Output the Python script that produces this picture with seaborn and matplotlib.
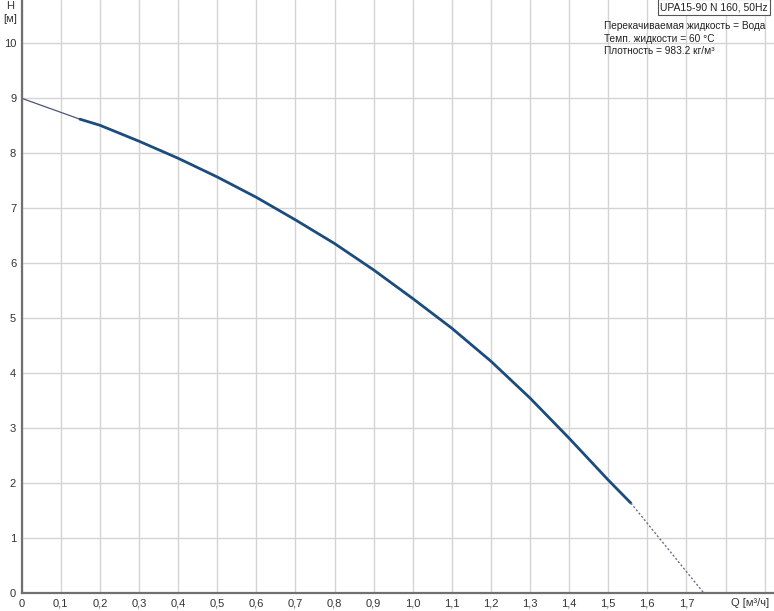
import pandas as pd
import matplotlib
matplotlib.use("Agg")
import matplotlib.pyplot as plt
import seaborn as sns

# Pump curve UPA15-90 N 160
q_start = [0.0, 0.149]
h_start = [9.0, 8.62]

q_main = [0.149, 0.2, 0.3, 0.4, 0.5, 0.6, 0.7, 0.8, 0.9, 1.0,
          1.1, 1.2, 1.3, 1.4, 1.5, 1.558]
h_main = [8.62, 8.51, 8.22, 7.91, 7.57, 7.20, 6.79, 6.36, 5.88, 5.36,
          4.82, 4.22, 3.55, 2.82, 2.06, 1.64]

q_end = [1.558, 1.745]
h_end = [1.64, 0.0]

x_ticks = [i / 10 for i in range(20)]
x_labels = ["0", "0,1", "0,2", "0,3", "0,4", "0,5", "0,6", "0,7", "0,8", "0,9",
            "1,0", "1,1", "1,2", "1,3", "1,4", "1,5", "1,6", "1,7", "", ""]
y_ticks = list(range(11))

info_lines = ["Перекачиваемая жидкость = Вода",
              "Темп. жидкости = 60 °C",
              "Плотность = 983.2 кг/м³"]

sns.set_style("white")
plt.rcParams["font.family"] = ["Liberation Sans", "DejaVu Sans"]

fig = plt.figure(figsize=(7.74, 6.11), dpi=100)
ax = fig.add_axes([21.7 / 774, 17.7 / 611, 1 - 21.7 / 774, 593.3 / 611])

df_start = pd.DataFrame({"Q": q_start, "H": h_start})
df_main = pd.DataFrame({"Q": q_main, "H": h_main})
df_end = pd.DataFrame({"Q": q_end, "H": h_end})

sns.lineplot(data=df_start, x="Q", y="H", ax=ax, color="#4a5578", linewidth=0.9)
sns.lineplot(data=df_main, x="Q", y="H", ax=ax, color="#1b4c7c", linewidth=2.0)
sns.lineplot(data=df_end, x="Q", y="H", ax=ax, color="#6a7088", linewidth=1.0,
             linestyle=(0, (1.5, 1.5)))

ax.set_xlim(0, 1.924)
ax.set_ylim(0, 593.3 / 55)
ax.set_xticks(x_ticks)
ax.set_xticklabels(x_labels)
ax.set_yticks(y_ticks)
ax.set_yticklabels([str(v) for v in y_ticks])
ax.grid(True, color="#d4d4d4", linewidth=1.0)
ax.set_axisbelow(True)
ax.set_xlabel("")
ax.set_ylabel("")

for side in ["top", "right"]:
    ax.spines[side].set_visible(False)
for side in ["left", "bottom"]:
    ax.spines[side].set_color("#707070")
    ax.spines[side].set_linewidth(1.6)

ax.tick_params(axis="both", labelsize=8, length=3, width=1, pad=1,
               direction="out", colors="#707070", labelcolor="#333333")

# axis names
fig.text(10 / 774, 1 - 6 / 611, "H", fontsize=8, color="#333333",
         ha="center", va="center")
fig.text(10 / 774, 1 - 19 / 611, "[м]", fontsize=8, color="#333333",
         ha="center", va="center")
fig.text(769 / 774, 1 - 603 / 611, "Q [м³/ч]", fontsize=8, color="#333333",
         ha="right", va="center")

# title box and liquid info
fig.text(714 / 774, 1 - 7 / 611, "UPA15-90 N 160, 50Hz", fontsize=7.5,
         color="#222222", ha="center", va="center",
         bbox=dict(boxstyle="square,pad=0.25", facecolor="white",
                   edgecolor="#555555", linewidth=0.8))
for i, line in enumerate(info_lines):
    fig.text(604 / 774, 1 - (26 + i * 12.5) / 611, line, fontsize=7.3,
             color="#222222", ha="left", va="center")

fig.savefig("out.png", dpi=100)
